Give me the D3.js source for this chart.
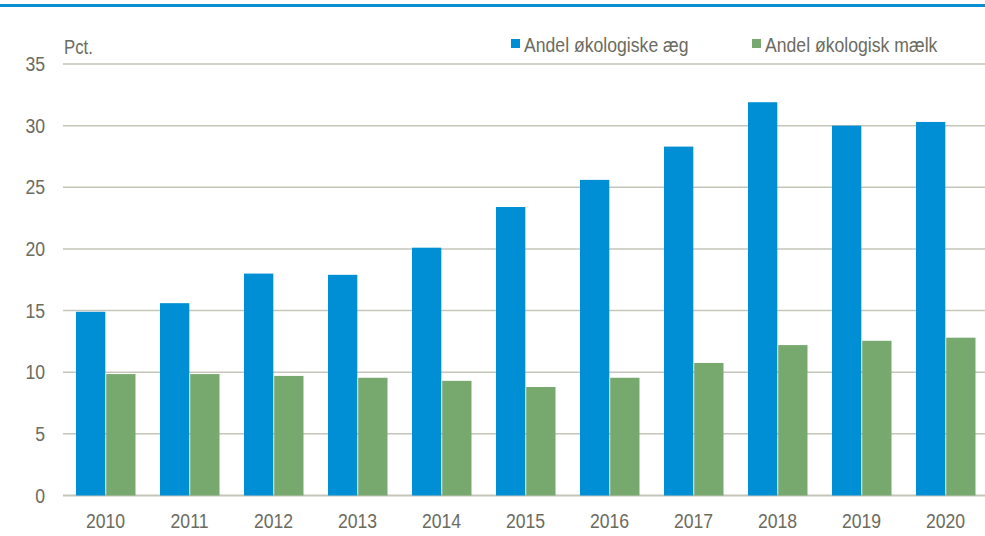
<!DOCTYPE html>
<meta charset="utf-8">
<script src="https://d3js.org/d3.v7.min.js"></script>
<style>
  body { margin: 0; background: #fff; }
  text { font-family: "Liberation Sans Narrow", "Arial Narrow", "Liberation Sans", sans-serif; fill: #6b6b5f; }
</style>
<div id="chart"></div>
<script>
// Data
const years = ["2010","2011","2012","2013","2014","2015","2016","2017","2018","2019","2020"];
const eggs = [14.9, 15.6, 18.0, 17.9, 20.1, 23.4, 25.6, 28.3, 31.9, 30.0, 30.3];
const milk = [9.85, 9.85, 9.7, 9.55, 9.3, 8.8, 9.55, 10.75, 12.2, 12.55, 12.8];
const seriesNames = ["Andel økologiske æg", "Andel økologisk mælk"];
const yTicks = [0, 5, 10, 15, 20, 25, 30, 35];

const W = 985, H = 536;
const colors = ["#008fd5", "#77a96f"];
const SX = 0.84; // no narrow font available, squeeze the text instead

const svg = d3.select("#chart").append("svg")
  .attr("width", W).attr("height", H);

// top rule
svg.append("rect").attr("x", 0).attr("y", 4).attr("width", W).attr("height", 3).attr("fill", "#0a8fd0");

const x = d3.scaleBand().domain(years).range([63.5, 987.5]).paddingInner(0).paddingOuter(0);
const y = d3.scaleLinear().domain([0, 35]).range([495.5, 64]);

const squeeze = (px, py) => `translate(${px},${py}) scale(${SX},1)`;

// gridlines
svg.append("g").selectAll("line").data(yTicks).join("line")
  .attr("x1", 63).attr("x2", W)
  .attr("y1", d => y(d)).attr("y2", d => y(d))
  .attr("stroke", "#c6c5ba").attr("stroke-width", d => d === 0 ? 2 : 1.5);

// y tick labels
svg.append("g").selectAll("text").data(yTicks).join("text")
  .attr("transform", d => squeeze(45, y(d) + 7))
  .attr("text-anchor", "end").attr("font-size", 21)
  .text(d => d);

svg.append("text").attr("transform", squeeze(64, 54)).attr("font-size", 20).text("Pct.");

// bars
const inner = d3.scaleBand().domain([0, 1]).range([12.5, 72]).paddingInner(0.03);
const rows = years.map((yr, i) => ({ yr, vals: [eggs[i], milk[i]] }));
const groups = svg.append("g").selectAll("g").data(rows).join("g")
  .attr("transform", d => `translate(${x(d.yr)},0)`);
groups.selectAll("rect").data(d => d.vals.map((v, k) => ({ v, k }))).join("rect")
  .attr("x", d => inner(d.k))
  .attr("width", inner.bandwidth())
  .attr("y", d => y(d.v))
  .attr("height", d => y(0) - y(d.v))
  .attr("fill", d => colors[d.k]);

// x labels
svg.append("g").selectAll("text").data(years).join("text")
  .attr("transform", d => squeeze(x(d) + x.bandwidth() / 2, 528))
  .attr("text-anchor", "middle").attr("font-size", 21)
  .text(d => d);

// legend
const legX = [511, 752];
seriesNames.forEach((n, i) => {
  svg.append("rect").attr("x", legX[i]).attr("y", 39).attr("width", 9).attr("height", 9).attr("fill", colors[i]);
  svg.append("text").attr("transform", squeeze(legX[i] + 13, 52)).attr("font-size", 21).text(n);
});
</script>
